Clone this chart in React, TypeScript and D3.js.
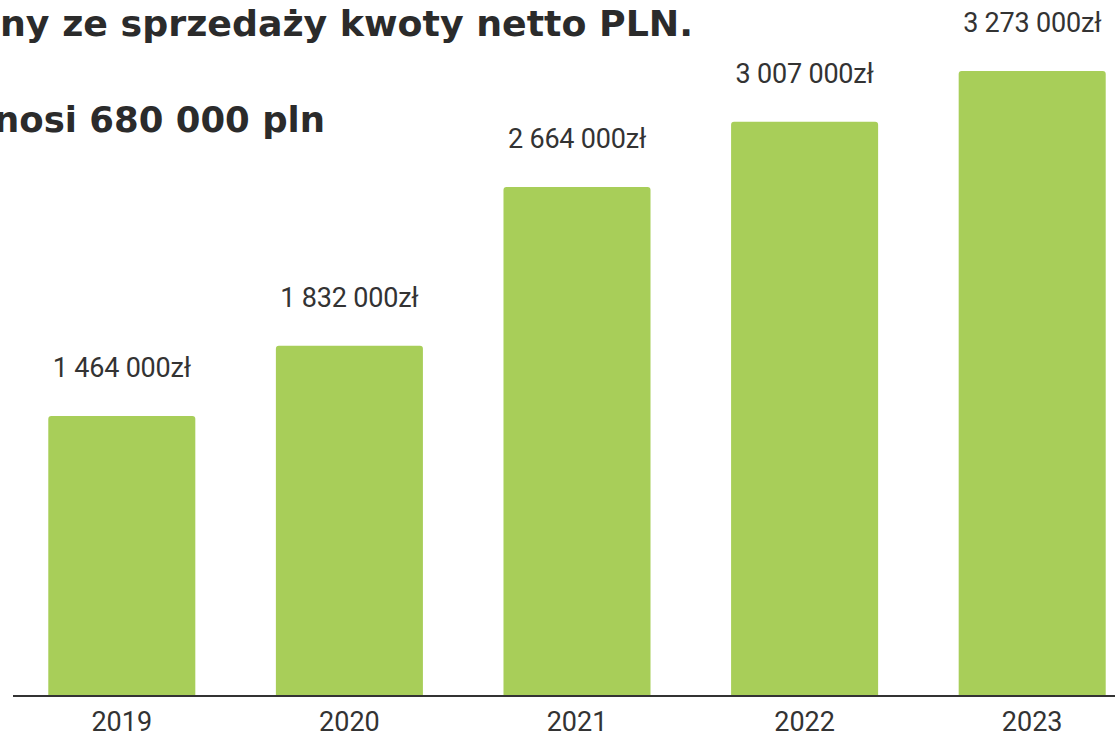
import React, { useEffect, useRef } from 'react';
import * as d3 from 'd3';

const years = ['2019', '2020', '2021', '2022', '2023'];
const revenue = [1464000, 1832000, 2664000, 3007000, 3273000];
const titleLines = ['ny ze sprzedaży kwoty netto PLN.', 'nosi 680 000 pln'];

const W = 1115;
const H = 737;

const pln = d3.formatLocale({
  decimal: ',',
  thousands: ' ',
  grouping: [3],
  currency: ['', 'zł'],
});

const BarChart = () => {
  const ref = useRef<SVGSVGElement>(null);

  useEffect(() => {
    const svg = d3.select(ref.current);
    svg.selectAll('*').remove();

    const baseline = 695;

    const x = d3.scaleBand()
      .domain(years)
      .range([8, 1146])
      .paddingInner(0.354)
      .paddingOuter(0.177);

    const y = d3.scaleLinear()
      .domain([0, 3273000])
      .range([baseline, 71]);

    const fmt = pln.format('$,.0f');

    // heading, cut on the left as in the source screenshot
    const titlePos = [
      { x: 0, y: 36, len: 693 },
      { x: -6, y: 132, len: 331 },
    ];
    svg.append('g')
      .selectAll('text')
      .data(titleLines)
      .enter()
      .append('text')
      .attr('x', (d, i) => titlePos[i].x)
      .attr('y', (d, i) => titlePos[i].y)
      .attr('textLength', (d, i) => titlePos[i].len)
      .attr('lengthAdjust', 'spacingAndGlyphs')
      .attr('font-family', 'DejaVu Sans, sans-serif')
      .attr('font-weight', 700)
      .attr('font-size', 35)
      .attr('fill', '#2b2b2b')
      .text(d => d);

    const data = years.map((yr, i) => ({ yr, v: revenue[i] }));

    svg.append('g')
      .selectAll('path')
      .data(data)
      .enter()
      .append('path')
      .attr('d', d => {
        const x0 = x(d.yr)!;
        const w = x.bandwidth();
        const top = y(d.v);
        const r = 3;
        return `M${x0},${baseline}V${top + r}Q${x0},${top} ${x0 + r},${top}H${x0 + w - r}Q${x0 + w},${top} ${x0 + w},${top + r}V${baseline}Z`;
      })
      .attr('fill', '#a8ce59');

    svg.append('g')
      .selectAll('text')
      .data(data)
      .enter()
      .append('text')
      .attr('x', d => x(d.yr)! + x.bandwidth() / 2)
      .attr('y', d => y(d.v) - 39)
      .attr('text-anchor', 'middle')
      .attr('font-family', 'Roboto, sans-serif')
      .attr('font-size', 27)
      .attr('letter-spacing', -0.2)
      .attr('fill', '#333')
      .text(d => fmt(d.v));

    svg.append('line')
      .attr('x1', 13)
      .attr('x2', W)
      .attr('y1', baseline + 1)
      .attr('y2', baseline + 1)
      .attr('stroke', '#333')
      .attr('stroke-width', 2);

    svg.append('g')
      .selectAll('text')
      .data(years)
      .enter()
      .append('text')
      .attr('x', d => x(d)! + x.bandwidth() / 2)
      .attr('y', 731)
      .attr('text-anchor', 'middle')
      .attr('font-family', 'Roboto, sans-serif')
      .attr('font-size', 27)
      .attr('fill', '#333')
      .text(d => d);
  }, []);

  return (
    <svg
      ref={ref}
      width={W}
      height={H}
      style={{ position: 'absolute', left: 0, top: 0, background: '#fff' }}
    />
  );
};

export default function App() {
  return <BarChart />;
}
